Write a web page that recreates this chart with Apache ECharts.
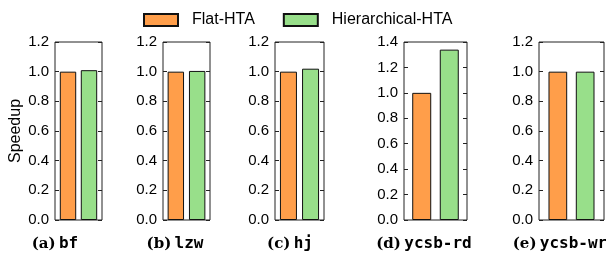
<!DOCTYPE html>
<html>
<head>
<meta charset="utf-8">
<script src="https://cdn.jsdelivr.net/npm/echarts@6/dist/echarts.min.js"></script>
<style>
  html, body { margin: 0; padding: 0; background: #fff; }
  #chart { width: 606px; height: 258px; }
</style>
</head>
<body>
<div id="chart"></div>
<script>
const categories = ['bf', 'lzw', 'hj', 'ycsb-rd', 'ycsb-wr']
const letters = ['a', 'b', 'c', 'd', 'e']
const flatHTA = [1.0, 1.0, 1.0, 1.0, 1.0]
const hierHTA = [1.01, 1.005, 1.02, 1.34, 1.0]
const yMax = [1.2, 1.2, 1.2, 1.4, 1.2]
const yStep = 0.2

// layout of the five small panels
const panels = [
  { left: 55, width: 47, bar: 16.4, gap: '28%', label: 55 },
  { left: 163, width: 47, bar: 16.4, gap: '30%', label: 175 },
  { left: 275, width: 49, bar: 17, gap: '30%', label: 290 },
  { left: 404, width: 63, bar: 19, gap: '45%', label: 424 },
  { left: 539, width: 65, bar: 18.7, gap: '46%', label: 560 }
]

const tickFont = { fontFamily: 'Liberation Sans', fontSize: 15, color: '#000' }

let grid = [], xAxis = [], yAxis = [], series = [], graphic = []

panels.forEach((p, i) => {
  grid.push({
    left: p.left, width: p.width, top: 42, bottom: 38,
    show: true, borderColor: '#222', borderWidth: 1
  })
  xAxis.push({
    type: 'category', gridIndex: i, data: [categories[i]],
    axisLine: { show: false }, axisTick: { show: false }, axisLabel: { show: false }
  })
  // left axis with labels
  yAxis.push({
    type: 'value', gridIndex: i, min: 0, max: yMax[i], interval: yStep,
    axisLine: { show: false },
    axisTick: { show: true, inside: true, length: 4, lineStyle: { color: '#222' } },
    axisLabel: Object.assign({ margin: 6, formatter: v => v.toFixed(1) }, tickFont),
    splitLine: { show: false }
  })
  // right axis only for mirrored ticks
  yAxis.push({
    type: 'value', gridIndex: i, position: 'right', min: 0, max: yMax[i], interval: yStep,
    axisLine: { show: false },
    axisTick: { show: true, inside: true, length: 4, lineStyle: { color: '#222' } },
    axisLabel: { show: false },
    splitLine: { show: false }
  })
  series.push({
    name: 'Flat-HTA', type: 'bar', xAxisIndex: i, yAxisIndex: i * 2,
    data: [flatHTA[i]], barWidth: p.bar, barGap: p.gap,
    itemStyle: { color: '#FF9E4A', borderColor: '#111', borderWidth: 1 }
  })
  series.push({
    name: 'Hierarchical-HTA', type: 'bar', xAxisIndex: i, yAxisIndex: i * 2,
    data: [hierHTA[i]], barWidth: p.bar, barGap: p.gap,
    itemStyle: { color: '#98DF8A', borderColor: '#111', borderWidth: 1 }
  })
  graphic.push({
    type: 'text', x: p.label, y: 244,
    style: {
      text: '{p|(' + letters[i] + ')} {c|' + categories[i] + '}',
      align: 'center', verticalAlign: 'middle',
      rich: {
        p: { fontFamily: 'DejaVu Serif', fontWeight: 'bold', fontSize: 15, fill: '#000' },
        c: { fontFamily: 'DejaVu Sans Mono', fontWeight: 'bold', fontSize: 16, fill: '#000' }
      }
    }
  })
})

graphic.push({
  type: 'text', x: 16, y: 131, rotation: Math.PI / 2,
  style: {
    text: 'Speedup', align: 'center', verticalAlign: 'middle',
    fontFamily: 'Liberation Sans', fontSize: 16, fill: '#000'
  }
})

const chart = echarts.init(document.getElementById('chart'))
chart.setOption({
  animation: false,
  legend: {
    data: ['Flat-HTA', 'Hierarchical-HTA'],
    left: 138, top: 7,
    itemWidth: 34, itemHeight: 12, itemGap: 28,
    icon: 'rect',
    textStyle: { fontFamily: 'Liberation Sans', fontSize: 16, color: '#000', padding: [0, 0, 0, 9] }
  },
  grid, xAxis, yAxis, series, graphic
})
</script>
</body>
</html>
